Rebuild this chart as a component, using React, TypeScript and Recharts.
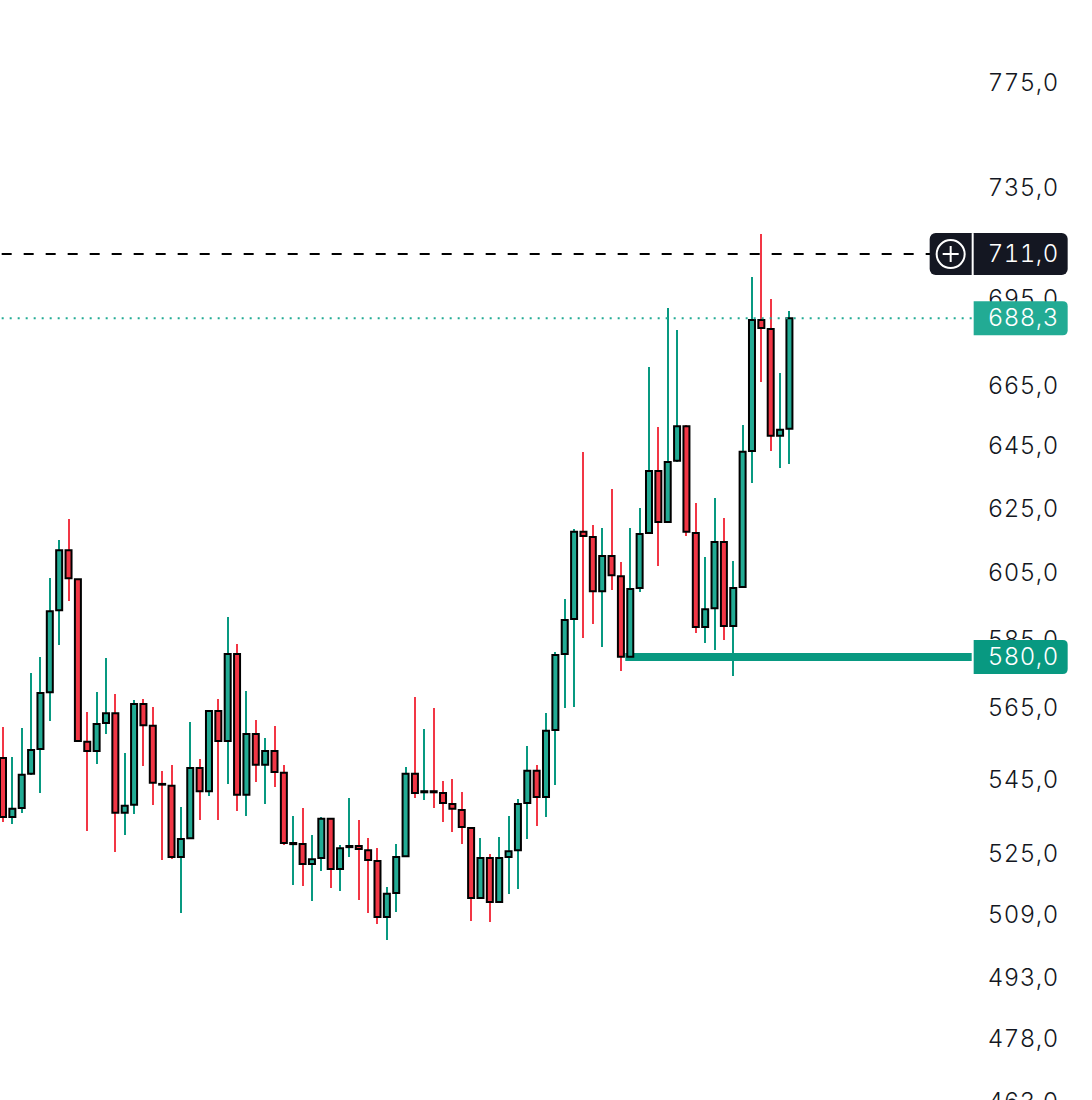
import React from "react";
import { ComposedChart, Bar, Cell, XAxis, YAxis, ReferenceLine, ReferenceArea } from "recharts";

const opens = [551.2,535.0,537.4,546.8,553.7,569.8,593.9,612.2,603.3,555.7,
553.1,561.0,563.8,536.1,538.3,566.4,560.2,544.0,543.5,524.3,
529.3,548.4,542.0,564.4,555.9,580.9,541.0,557.9,549.3,553.1,
547.1,527.7,527.7,522.4,524.0,534.5,521.1,526.9,527.2,526.1,
523.2,508.6,514.8,524.5,546.8,541.7,542.0,541.5,538.5,536.9,
532.0,513.5,524.0,512.5,524.3,526.1,538.8,547.6,540.4,559.0,
580.9,591.3,617.9,616.3,599.6,610.4,604.2,580.1,600.6,617.5,
637.2,621.0,640.5,651.8,617.5,588.9,594.5,614.7,589.2,600.9,
643.7,687.7,684.6,648.6,650.9];
const closes = [535.0,537.2,546.5,553.4,569.6,593.6,612.2,603.6,555.9,553.1,
560.7,563.8,536.1,538.0,566.4,560.4,544.3,543.8,524.3,529.1,
548.4,542.0,564.4,555.9,580.9,541.0,557.9,549.3,553.1,547.3,
528.0,528.0,522.4,523.7,534.5,521.1,526.6,527.2,526.4,523.5,
508.6,514.6,524.3,546.8,541.5,542.0,541.7,538.8,537.2,532.3,
513.5,524.0,512.5,524.0,525.8,538.5,547.6,540.4,558.8,580.6,
591.0,617.9,616.6,599.6,610.4,604.5,580.1,600.3,617.2,637.2,
621.0,640.1,651.8,617.9,588.9,594.2,614.7,589.2,600.6,643.4,
687.7,684.9,648.6,650.6,688.3];
const highs = [559.9,551.5,559.6,575.4,580.1,603.6,615.3,621.9,603.3,564.1,
569.8,579.8,569.3,552.6,567.5,567.8,565.5,547.6,549.3,537.7,
561.3,550.9,564.4,567.8,591.9,584.0,570.1,561.9,556.8,560.2,
549.3,535.3,537.4,530.1,535.0,534.5,527.4,540.2,534.2,529.3,
526.6,516.4,527.7,548.7,568.4,559.3,565.2,544.8,545.4,541.7,
532.0,529.3,525.1,529.6,535.3,539.9,554.5,549.3,563.8,581.5,
597.2,618.8,643.4,620.0,619.1,631.4,608.5,619.1,625.4,671.6,
651.5,691.9,684.3,652.2,627.0,610.1,628.5,622.2,608.8,652.2,
702.8,718.2,695.0,669.5,690.9];
const lows = [533.7,533.1,536.1,546.5,541.5,561.6,583.6,596.6,555.7,531.2,
549.5,557.9,525.6,530.1,535.8,549.0,538.3,523.5,523.7,509.7,
529.1,534.2,540.7,534.2,544.0,536.6,535.3,544.6,538.5,543.2,
527.4,516.9,516.7,512.7,520.6,516.1,515.4,524.3,513.0,509.7,
506.9,502.8,509.9,524.3,540.2,539.6,537.4,533.7,531.0,527.7,
507.6,513.2,507.4,512.2,514.6,515.9,529.1,532.6,535.0,543.7,
565.2,565.5,585.7,589.8,582.9,600.0,576.0,579.8,599.3,617.2,
607.3,620.7,640.1,616.6,587.1,584.2,582.1,585.1,574.5,600.6,
633.2,666.5,643.7,638.2,639.5];

const plainTicks = [775,735,695,665,645,625,605,585,565,545,525,509,493,478,463];
const BLANK_SLOTS = 19;
const crosshairPrice = 711;
const lastPrice = 688.3;
const levelPrice = 580;
const levelBandLow = 578.83;
const levelBandHigh = 581.17;
const levelStartIndex = 67;
// badges come last so that they paint over the plain ticks they collide with
const axisTicks = [...plainTicks, crosshairPrice, lastPrice, levelPrice];

const UP_WICK = "#089981";
const DOWN_WICK = "#F23645";
const UP_BODY = "#22AB94";
const DOWN_BODY = "#F23645";
const FONT = "Inter, sans-serif";
const OFFSET_X = -1.68;

const fmt = (v: number) => v.toFixed(1).replace(".", ",");

const rows: any[] = opens.map((o, i) => ({
  idx: i,
  wick: [lows[i], highs[i]],
  body: [Math.min(o, closes[i]), Math.max(o, closes[i])],
  up: closes[i] >= o,
}));
for (let i = 0; i < BLANK_SLOTS; i++) rows.push({ idx: opens.length + i });

const Label = ({ x, y, fill, children }: any) => (
  <text
    x={x}
    y={y}
    dy={7.5}
    textAnchor="end"
    fontFamily={FONT}
    fontSize={24}
    fontWeight={350}
    letterSpacing={0.5}
    fill={fill}
    style={{ fontVariantNumeric: "tabular-nums" }}
  >
    {children}
  </text>
);

const AxisTick = (props: any) => {
  const base = props.x - 8;
  const y = props.y;
  const value = props.payload.value;
  const left = base + 2;
  const right = left + 94;
  const textX = base + 87;
  if (value === crosshairPrice) {
    const cx = base - 21;
    return (
      <g>
        <rect x={base - 42} y={y - 21} width={138} height={42} rx={6} fill="#141722" />
        <rect x={base} y={y - 21} width={2} height={42} fill="#ffffff" />
        <circle cx={cx} cy={y} r={14} fill="none" stroke="#ffffff" strokeWidth={2} />
        <path d={`M${cx - 8} ${y} H${cx + 8} M${cx} ${y - 8} V${y + 8}`} stroke="#ffffff" strokeWidth={2} />
        <Label x={textX} y={y} fill="#ffffff">{fmt(value)}</Label>
      </g>
    );
  }
  if (value === lastPrice || value === levelPrice) {
    const h = 17;
    return (
      <g>
        <path
          d={`M${left} ${y - h} H${right - 5} Q${right} ${y - h} ${right} ${y - h + 5} V${y + h - 5} Q${right} ${y + h} ${right - 5} ${y + h} H${left} Z`}
          fill={value === lastPrice ? UP_BODY : UP_WICK}
        />
        <Label x={textX} y={y} fill="#ffffff">{fmt(value)}</Label>
      </g>
    );
  }
  return <Label x={textX} y={y} fill="#131722">{fmt(value)}</Label>;
};

export default function App() {
  return (
    <div style={{ position: "absolute", left: OFFSET_X, top: 0, width: 1093.68, height: 1100 }}>
      <ComposedChart width={1093.68} height={1100} data={rows} margin={{ top: 0, right: 0, bottom: 0, left: 0 }} barCategoryGap={0}>
        <XAxis xAxisId="wick" dataKey="idx" hide />
        <XAxis xAxisId="body" dataKey="idx" hide />
        <YAxis
          orientation="right"
          width={120}
          scale="log"
          domain={[463.7, 808.4]}
          allowDataOverflow
          ticks={axisTicks}
          interval={0}
          axisLine={false}
          tickLine={false}
          tick={<AxisTick />}
        />
        <ReferenceArea
          xAxisId="body"
          x1={levelStartIndex}
          y1={levelBandLow}
          y2={levelBandHigh}
          fill={UP_WICK}
          fillOpacity={1}
          stroke="none"
        />
        <ReferenceLine xAxisId="body" y={lastPrice} stroke={UP_BODY} strokeWidth={2} strokeDasharray="2 6" />
        <ReferenceLine xAxisId="body" y={crosshairPrice} stroke="#000000" strokeWidth={2} strokeDasharray="10 12" strokeDashoffset={8} />
        <Bar xAxisId="wick" dataKey="wick" barSize={2} isAnimationActive={false} stroke="none" shapeRendering="crispEdges">
          {rows.map((r) => (
            <Cell key={r.idx} fill={r.up ? UP_WICK : DOWN_WICK} shapeRendering="crispEdges" />
          ))}
        </Bar>
        <Bar xAxisId="body" dataKey="body" barSize={6} isAnimationActive={false} stroke="#000000" strokeWidth={2}>
          {rows.map((r) => (
            <Cell key={r.idx} fill={r.up ? UP_BODY : DOWN_BODY} stroke="#000000" strokeWidth={2} />
          ))}
        </Bar>
      </ComposedChart>
    </div>
  );
}
